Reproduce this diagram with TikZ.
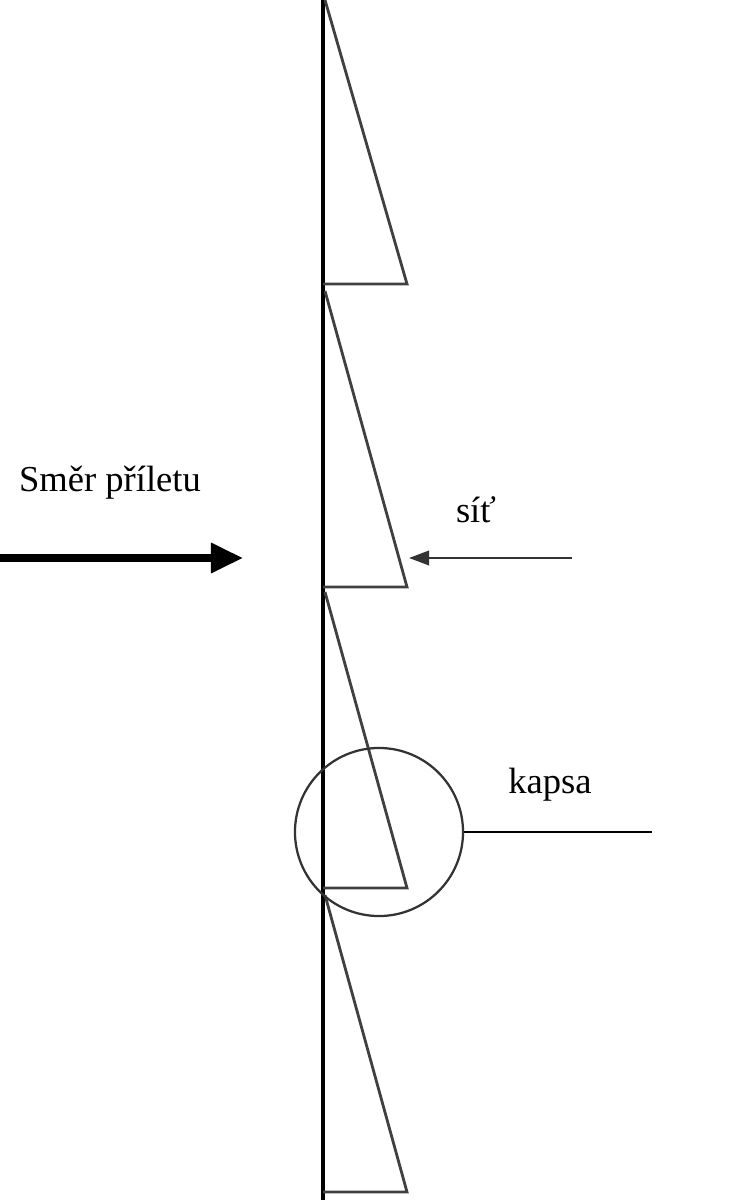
\documentclass[tikz,border=0pt]{standalone}
\usepackage{fontspec}
\setmainfont{Liberation Serif}
\usetikzlibrary{arrows.meta}

\begin{document}
\begin{tikzpicture}[x=0.025cm, y=-0.025cm,
        wall/.style = {line width=2.5pt, black},
        pocket/.style = {line width=2pt, black!75},
        label/.style = {font=\fontsize{26}{30}\selectfont, inner sep=0pt}]
    \useasboundingbox (0,0) rectangle (740,1200);
    % the net and its pockets
    \draw[wall] (323,0) -- (323,1200);
    \foreach \top/\bot in {0/284, 291/587, 592/888, 895/1192} {
        \draw[pocket] (325,\top) -- (407,\bot) -- (323,\bot);
    }
    % direction of flight
    \node[label] (smer) at (110,483) {Směr příletu};
    \coordinate (smerA) at (0,558);
    \coordinate (smerB) at (243,558);
    \draw[line width=5pt, -{Triangle[length=0.8cm, width=0.72cm]}] (smerA) -- (smerB);
    % net label
    \node[label] (sit) at (476,510) {síť};
    \coordinate (sitA) at (572,558);
    \coordinate (sitB) at (409,558);
    \draw[line width=1.7pt, black!80, -{Triangle[length=0.5cm, width=0.36cm]}] (sitA) -- (sitB);
    % pocket label
    \node[draw, circle, line width=1.6pt, black!80, minimum size=4.2cm, inner sep=0pt] (kapsa) at (379,832) {};
    \node[label] (kapsaText) at (550,785) {kapsa};
    \coordinate (kapsaEnd) at (652,832);
    \draw[line width=1.8pt] (kapsa.east) -- (kapsaEnd);
\end{tikzpicture}
\end{document}
